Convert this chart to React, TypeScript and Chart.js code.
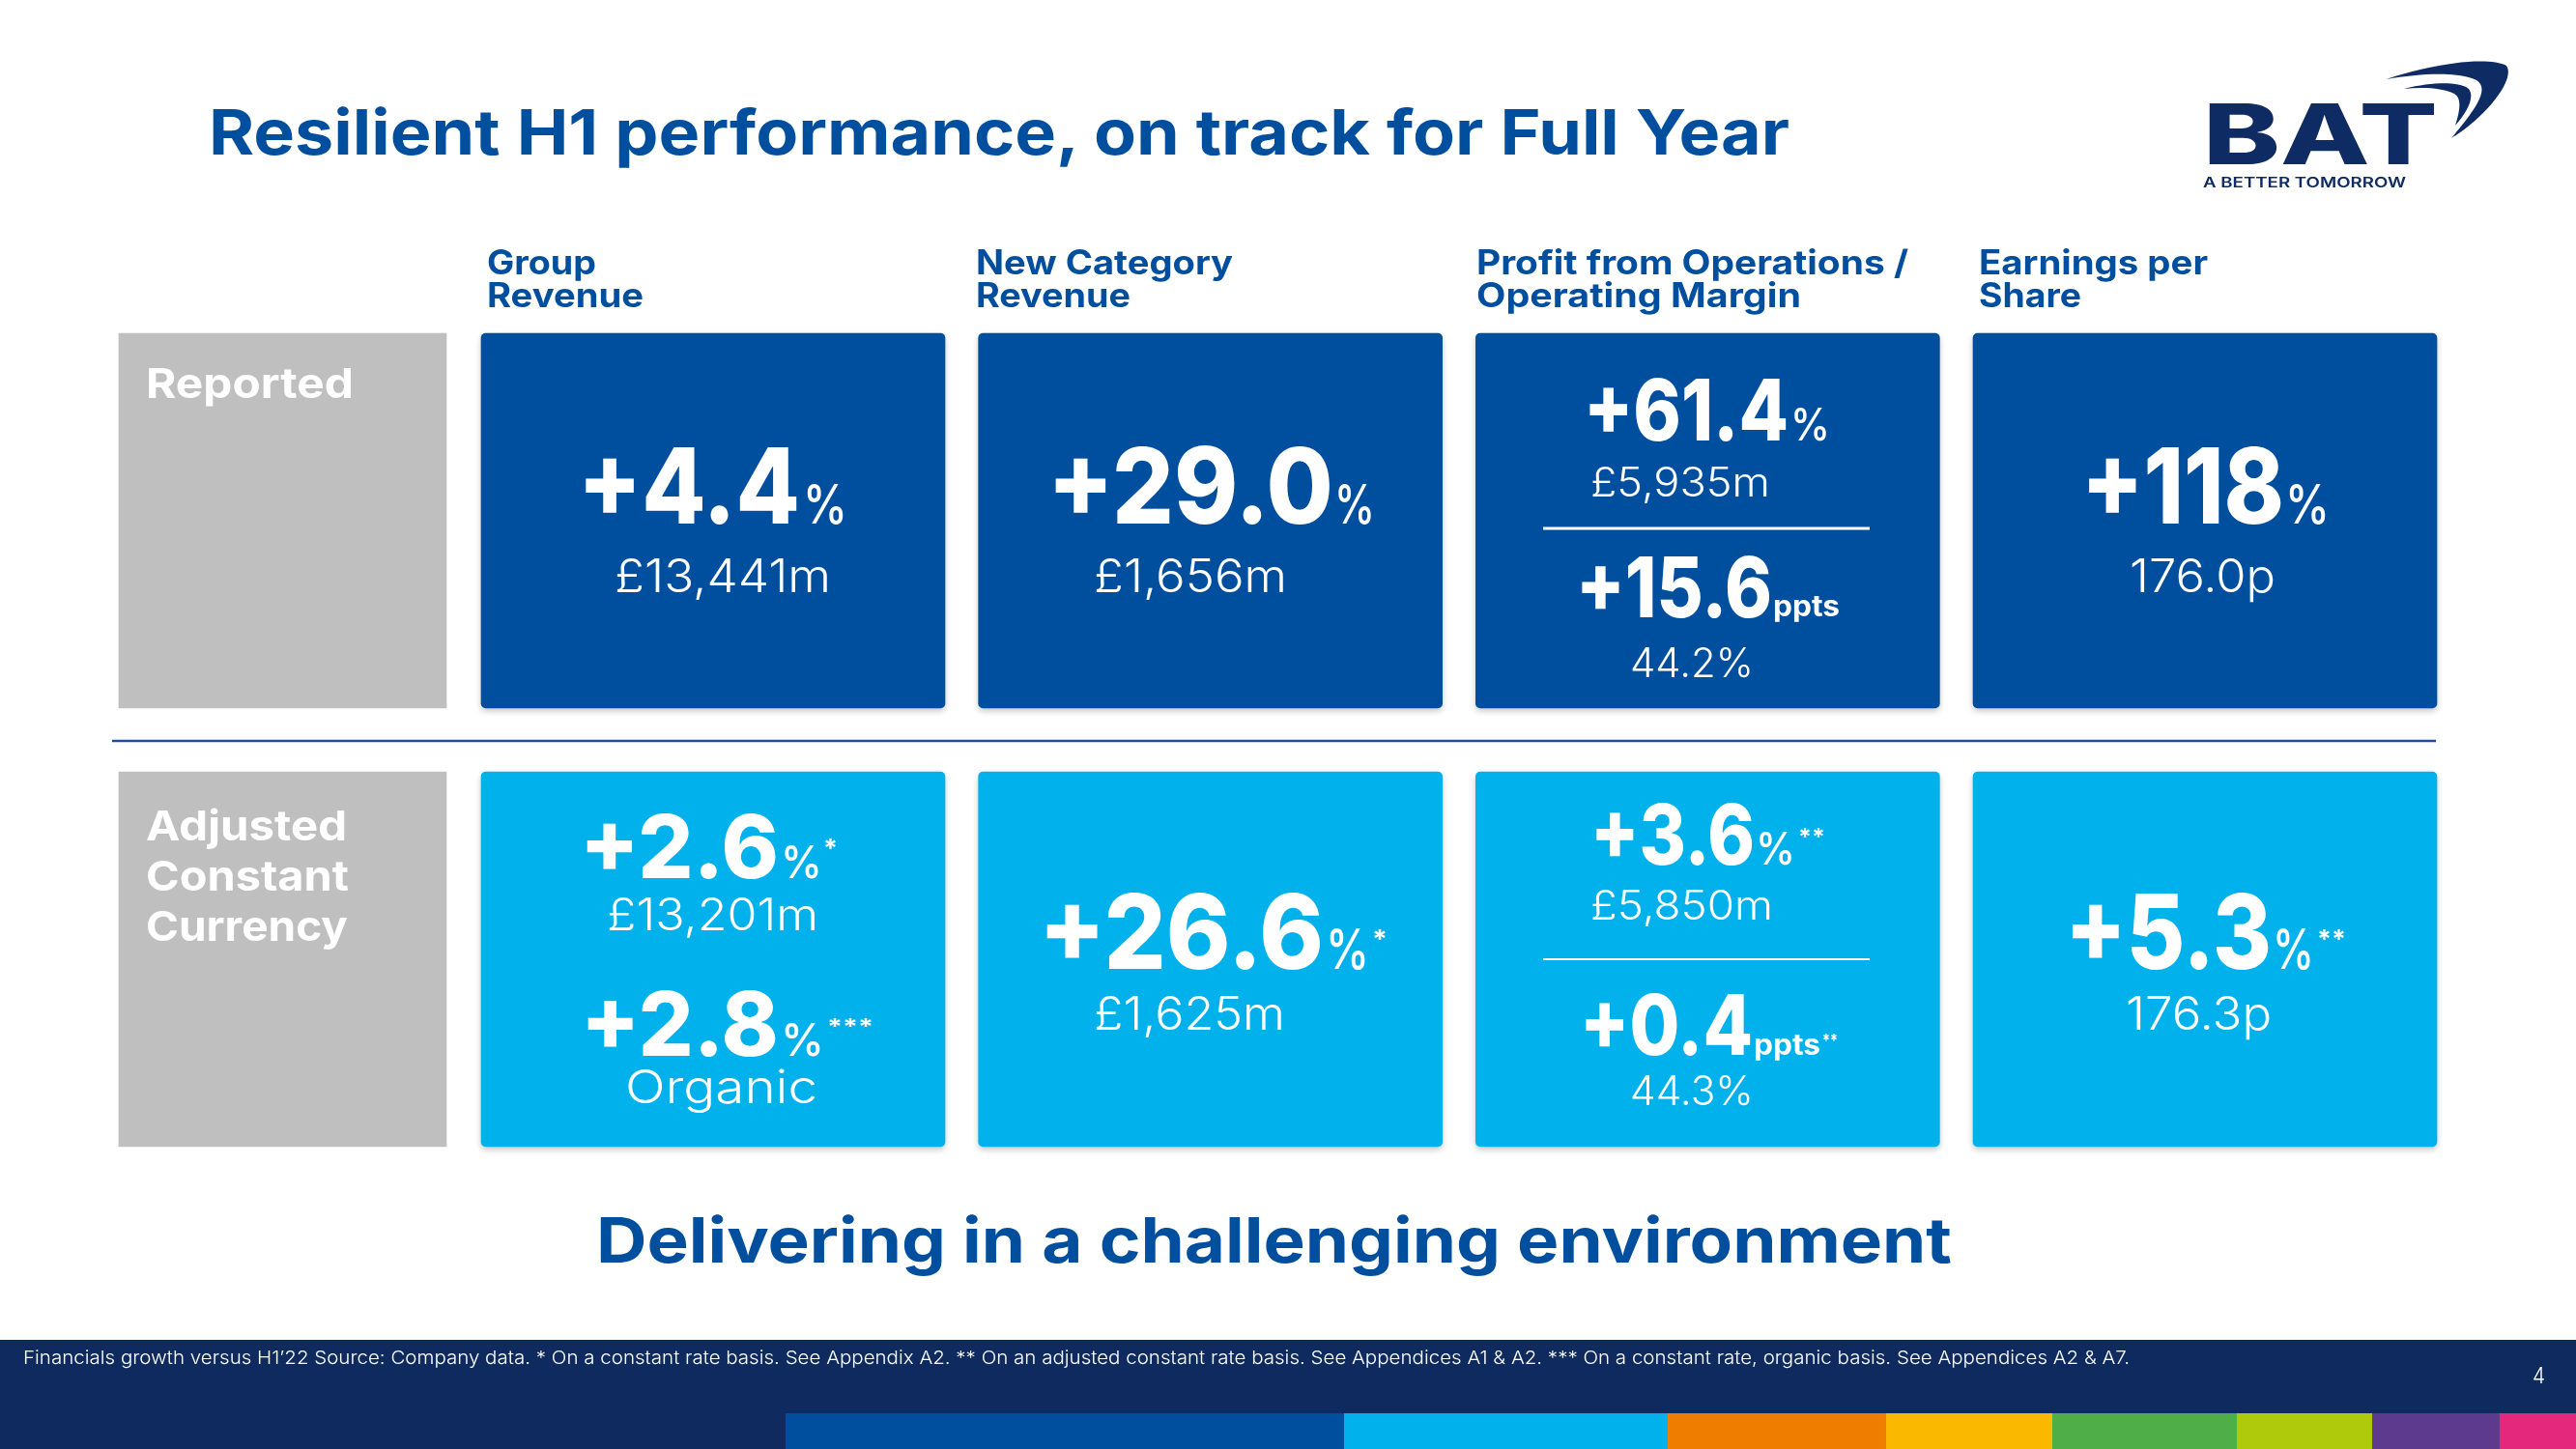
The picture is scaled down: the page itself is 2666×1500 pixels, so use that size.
import React, { useEffect, useRef } from "react";
import { Chart, registerables } from "chart.js";

Chart.register(...registerables);

// ---------------- data ----------------
const pageTitle = "Resilient H1 performance, on track for Full Year";
const tagline = "Delivering in a challenging environment";
const footnote =
  "Financials growth versus H1\u201922 Source: Company data. * On a constant rate basis. See Appendix A2. ** On an adjusted constant rate basis. See Appendices A1 & A2. *** On a constant rate,  organic basis. See Appendices A2 & A7.";
const pageNumber = "4";

const metricHeaders = [
  ["Group", "Revenue"],
  ["New Category", "Revenue"],
  ["Profit from Operations /", "Operating Margin"],
  ["Earnings per", "Share"],
];
const rowLabels = [["Reported"], ["Adjusted", "Constant", "Currency"]];

const reportedGrowth = ["+4.4", "+29.0", "+61.4", "+118"];
const reportedAmounts = ["£13,441m", "£1,656m", "£5,935m", "176.0p"];
const reportedMarginChange = "+15.6";
const reportedMargin = "44.2%";

const adjustedGrowth = ["+2.6", "+26.6", "+3.6", "+5.3"];
const adjustedNotes = ["*", "*", "**", "**"];
const adjustedAmounts = ["£13,201m", "£1,625m", "£5,850m", "176.3p"];
const organicGrowth = "+2.8";
const organicNote = "***";
const organicLabel = "Organic";
const adjustedMarginChange = "+0.4";
const adjustedMarginNote = "**";
const adjustedMargin = "44.3%";

const unitPct = "%";
const unitPpts = "ppts";

const metricColumns = [0, 1, 2, 3];
const labelColumn = -0.8656;
const rowBands: [number, number][] = [
  [1.1701, 2.1701],
  [0, 1],
];

const logoWord = "BAT";
const logoTagline = "A BETTER TOMORROW";
const stripeColors = ["#004f9f", "#00b1eb", "#ef7d00", "#fab900", "#50ae48", "#afca0b", "#5d3a8e", "#e4287c"];
const stripeEdges = [813, 1391, 1726, 1952, 2124, 2315, 2455, 2587, 2666];

// ---------------- styles ----------------
const W = 2666;
const H = 1500;
const BLUE = "#004f9f";
const LIGHT = "#00b1eb";
const GREY = "#bfbfbf";
const NAVY = "#0f2a5f";
const FONT = "Inter, 'Noto Sans', sans-serif";

// pixel anchors for the axes
const COL0_PX = 738;
const COL_PITCH = 514.67;
const ROW0_BOTTOM_PX = 1187;
const ROW_UNIT = 388;

type TP = {
  x: number;
  y: number;
  w: number;
  s: number;
  wt?: number;
  fill?: string;
  children: React.ReactNode;
};
function T({ x, y, w, s, wt = 400, fill = "#ffffff", children }: TP) {
  return (
    <text
      x={x}
      y={y}
      fontSize={s}
      fontWeight={wt}
      fill={fill}
      fontFamily={FONT}
      textLength={w}
      lengthAdjust="spacingAndGlyphs"
    >
      {children}
    </text>
  );
}

const shadowPlugin = {
  id: "tileShadow",
  beforeDatasetDraw(chart: any, args: any) {
    const ctx = chart.ctx;
    ctx.save();
    if (args.index > 0) {
      ctx.shadowColor = "rgba(0,0,0,0.22)";
      ctx.shadowBlur = 6;
      ctx.shadowOffsetY = 3;
    }
  },
  afterDatasetDraw(chart: any) {
    chart.ctx.restore();
  },
};

function TileChart() {
  const ref = useRef<HTMLCanvasElement>(null);
  useEffect(() => {
    if (!ref.current) return;
    const xMin = -COL0_PX / COL_PITCH;
    const xMax = xMin + W / COL_PITCH;
    const yMax = ROW0_BOTTOM_PX / ROW_UNIT;
    const yMin = yMax - H / ROW_UNIT;
    const chart = new Chart(ref.current, {
      type: "bar",
      data: {
        datasets: [
          {
            label: "Row labels",
            data: rowLabels.map((_, i) => ({ x: labelColumn, y: rowBands[i] })) as any,
            backgroundColor: GREY,
            barThickness: 339,
            grouped: false,
            borderRadius: 0,
            borderSkipped: false,
          },
          {
            label: "Reported",
            data: metricColumns.map((c) => ({ x: c, y: rowBands[0] })) as any,
            backgroundColor: BLUE,
            barThickness: 480,
            grouped: false,
            borderRadius: 5,
            borderSkipped: false,
          },
          {
            label: "Adjusted Constant Currency",
            data: metricColumns.map((c) => ({ x: c, y: rowBands[1] })) as any,
            backgroundColor: LIGHT,
            barThickness: 480,
            grouped: false,
            borderRadius: 5,
            borderSkipped: false,
          },
        ],
      },
      options: {
        animation: false,
        responsive: false,
        maintainAspectRatio: false,
        devicePixelRatio: 1,
        layout: { padding: 0 },
        scales: {
          x: { type: "linear", min: xMin, max: xMax, display: false, offset: false, bounds: "data", grace: 0 },
          y: { type: "linear", min: yMin, max: yMax, display: false, offset: false, bounds: "data", grace: 0 },
        },
        plugins: { legend: { display: false }, tooltip: { enabled: false } },
      },
      plugins: [shadowPlugin],
    });
    return () => chart.destroy();
  }, []);
  return <canvas ref={ref} width={W} height={H} style={{ position: "absolute", left: 0, top: 0, width: W, height: H }} />;
}

export default function App() {
  const headerPos = [
    { x: 504, w: [113, 162] },
    { x: 1010, w: [266, 160] },
    { x: 1528, w: [447, 336] },
    { x: 2048, w: [237, 106] },
  ];
  return (
    <div style={{ position: "fixed", left: 0, top: 0, width: W, height: H, background: "#ffffff", overflow: "hidden" }}>
      <TileChart />
      <svg width={W} height={H} style={{ position: "absolute", left: 0, top: 0 }}>
        {/* title */}
        <T x={216} y={160} w={1636} s={65} wt={700} fill={BLUE}>{pageTitle}</T>

        {/* logo */}
        <g fill="#0e2b63">
          <T x={2280} y={170} w={243} s={86} wt={800} fill="#0e2b63">{logoWord}</T>
          <path d="M2470 82 C2515 66 2575 58 2594 68 C2604 82 2572 122 2537 143 C2560 116 2578 92 2563 83 C2545 74 2505 76 2470 82 Z" />
          <path d="M2488 92 C2520 84 2548 85 2555 92 C2562 101 2552 118 2541 130 C2546 114 2548 102 2540 97 C2528 91 2508 90 2488 92 Z" />
          <T x={2280} y={194} w={210} s={14} wt={600} fill="#0e2b63">{logoTagline}</T>
        </g>

        {/* column headers */}
        {metricHeaders.map((lines, i) =>
          lines.map((ln, j) => (
            <T key={`h${i}${j}`} x={headerPos[i].x} y={284 + j * 34} w={headerPos[i].w[j]} s={35} wt={700} fill={BLUE}>
              {ln}
            </T>
          ))
        )}

        {/* row labels */}
        <T x={151} y={412} w={215} s={43} wt={700}>{rowLabels[0][0]}</T>
        <T x={151} y={870} w={208} s={43} wt={700}>{rowLabels[1][0]}</T>
        <T x={151} y={922} w={210} s={43} wt={700}>{rowLabels[1][1]}</T>
        <T x={151} y={974} w={209} s={43} wt={700}>{rowLabels[1][2]}</T>

        {/* divider */}
        <line x1={116} x2={2521} y1={767} y2={767} stroke="#1b4f93" strokeWidth={2.5} />

        {/* Reported row */}
        <T x={598} y={542} w={230} s={109} wt={800}>{reportedGrowth[0]}</T>
        <T x={831} y={542} w={46} s={56} wt={500}>{unitPct}</T>
        <T x={636} y={613} w={224} s={48} wt={300}>{reportedAmounts[0]}</T>

        <T x={1084} y={542} w={296} s={109} wt={800}>{reportedGrowth[1]}</T>
        <T x={1381} y={542} w={42} s={56} wt={500}>{unitPct}</T>
        <T x={1132} y={613} w={200} s={48} wt={300}>{reportedAmounts[1]}</T>

        <T x={1639} y={456} w={212} s={88} wt={800}>{reportedGrowth[2]}</T>
        <T x={1853} y={456} w={41} s={46} wt={500}>{unitPct}</T>
        <T x={1646} y={514} w={186} s={42} wt={300}>{reportedAmounts[2]}</T>
        <line x1={1597} x2={1935} y1={547} y2={547} stroke="#ffffff" strokeWidth={3} />
        <T x={1631} y={639} w={203} s={86} wt={800}>{reportedMarginChange}</T>
        <T x={1835} y={638} w={69} s={30} wt={700}>{unitPpts}</T>
        <T x={1687} y={701} w={128} s={42} wt={300}>{reportedMargin}</T>

        <T x={2154} y={542} w={210} s={109} wt={800}>{reportedGrowth[3]}</T>
        <T x={2365} y={542} w={46} s={56} wt={500}>{unitPct}</T>
        <T x={2204} y={613} w={151} s={48} wt={300}>{reportedAmounts[3]}</T>

        {/* Adjusted row */}
        <T x={600} y={909} w={206} s={91} wt={800}>{adjustedGrowth[0]}</T>
        <T x={808} y={909} w={43} s={47} wt={500}>{unitPct}</T>
        <T x={852} y={887} w={15} s={26} wt={700}>{adjustedNotes[0]}</T>
        <T x={628} y={963} w={219} s={46} wt={300}>{adjustedAmounts[0]}</T>
        <T x={601} y={1093} w={205} s={92} wt={800}>{organicGrowth}</T>
        <T x={808} y={1093} w={45} s={47} wt={500}>{unitPct}</T>
        <T x={856} y={1070} w={48} s={22} wt={700}>{organicNote}</T>
        <T x={647} y={1142} w={199} s={48} wt={300}>{organicLabel}</T>

        <T x={1075} y={1003} w={295} s={107} wt={800}>{adjustedGrowth[1]}</T>
        <T x={1372} y={1003} w={45} s={58} wt={500}>{unitPct}</T>
        <T x={1420} y={981} w={16} s={26} wt={700}>{adjustedNotes[1]}</T>
        <T x={1132} y={1066} w={198} s={48} wt={300}>{adjustedAmounts[1]}</T>

        <T x={1646} y={895} w={170} s={87} wt={800}>{adjustedGrowth[2]}</T>
        <T x={1817} y={895} w={41} s={46} wt={500}>{unitPct}</T>
        <T x={1861} y={875} w={28} s={24} wt={700}>{adjustedNotes[2]}</T>
        <T x={1646} y={952} w={189} s={42} wt={300}>{adjustedAmounts[2]}</T>
        <line x1={1597} x2={1935} y1={993} y2={993} stroke="#ffffff" strokeWidth={2} />
        <T x={1635} y={1092} w={179} s={87} wt={800}>{adjustedMarginChange}</T>
        <T x={1815} y={1092} w={69} s={30} wt={700}>{unitPpts}</T>
        <T x={1886} y={1083} w={16} s={18} wt={700}>{adjustedMarginNote}</T>
        <T x={1687} y={1144} w={128} s={42} wt={300}>{adjustedMargin}</T>

        <T x={2137} y={1003} w={214} s={107} wt={800}>{adjustedGrowth[3]}</T>
        <T x={2352} y={1003} w={43} s={58} wt={500}>{unitPct}</T>
        <T x={2398} y={981} w={30} s={26} wt={700}>{adjustedNotes[3]}</T>
        <T x={2200} y={1066} w={151} s={48} wt={300}>{adjustedAmounts[3]}</T>

        {/* tagline */}
        <T x={617} y={1307} w={1403} s={65} wt={700} fill={BLUE}>{tagline}</T>

        {/* footer */}
        <rect x={0} y={1387} width={W} height={H - 1387} fill={NAVY} />
        {stripeColors.map((c, i) => (
          <rect key={c} x={stripeEdges[i]} y={1463} width={stripeEdges[i + 1] - stripeEdges[i]} height={H - 1463} fill={c} />
        ))}
        <T x={24} y={1412} w={2180} s={19} wt={300}>{footnote}</T>
        <T x={2621} y={1432} w={13} s={23} wt={300}>{pageNumber}</T>
      </svg>
    </div>
  );
}
